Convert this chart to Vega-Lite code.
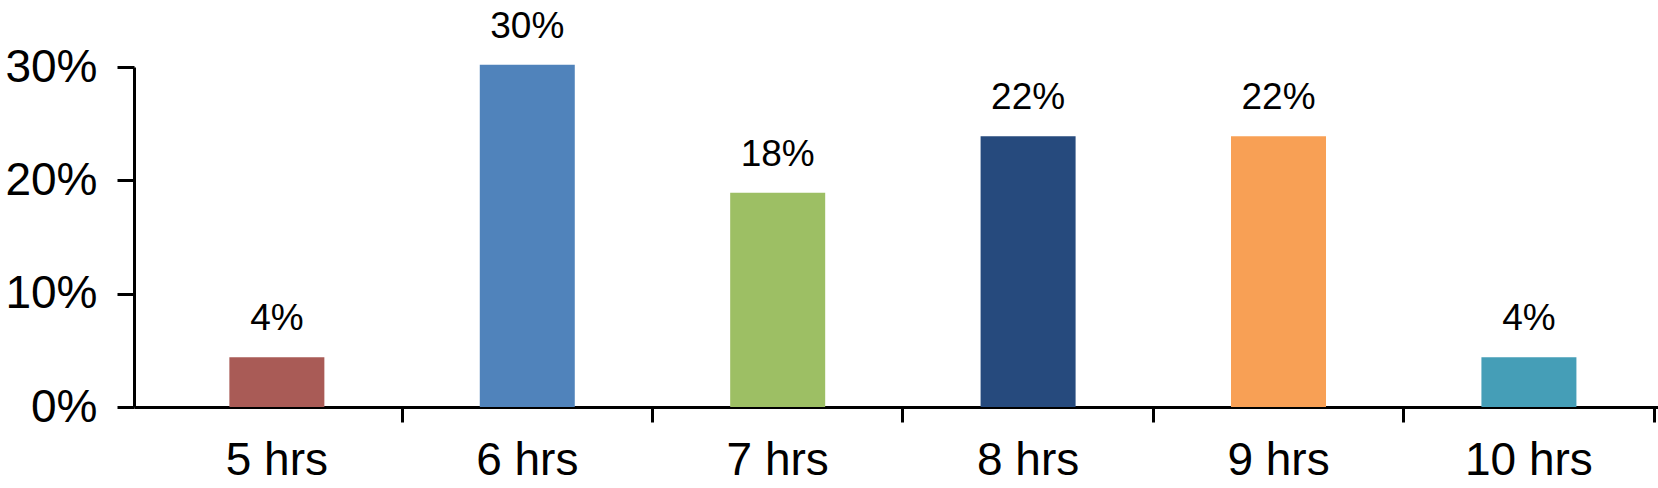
{
  "$schema": "https://vega.github.io/schema/vega-lite/v6.json",
  "autosize": "none",
  "width": 1524,
  "height": 340,
  "padding": {"left": 134, "top": 67, "right": 0, "bottom": 81},
  "background": "white",
  "config": {
    "view": {"stroke": null},
    "font": "Liberation Sans"
  },
  "data": {
    "values": [
      {"hours": "5 hrs", "value": 4.4, "label": "4%", "color": "#A95B56"},
      {"hours": "6 hrs", "value": 30.2, "label": "30%", "color": "#5083BB"},
      {"hours": "7 hrs", "value": 18.9, "label": "18%", "color": "#9DBF64"},
      {"hours": "8 hrs", "value": 23.9, "label": "22%", "color": "#264A7D"},
      {"hours": "9 hrs", "value": 23.9, "label": "22%", "color": "#F8A055"},
      {"hours": "10 hrs", "value": 4.4, "label": "4%", "color": "#459EB7"}
    ]
  },
  "encoding": {
    "x": {
      "field": "hours",
      "type": "nominal",
      "sort": null,
      "scale": {"paddingInner": 0, "paddingOuter": 0.043, "align": 0.82},
      "axis": {
        "title": null,
        "labelAngle": 0,
        "labelFontSize": 46,
        "labelColor": "black",
        "labelPadding": 16,
        "labelFont": "Liberation Sans",
        "domainColor": "black",
        "domainWidth": 3,
        "tickColor": "black",
        "tickWidth": 3,
        "tickSize": 15,
        "bandPosition": 1,
        "grid": false
      }
    },
    "y": {
      "field": "value",
      "type": "quantitative",
      "scale": {"domain": [0, 30], "nice": false, "zero": true},
      "axis": {
        "title": null,
        "values": [0, 10, 20, 30],
        "labelExpr": "datum.value + '%'",
        "labelFontSize": 46,
        "labelColor": "black",
        "labelPadding": 20,
        "labelFont": "Liberation Sans",
        "domainColor": "black",
        "domainWidth": 3,
        "tickColor": "black",
        "tickWidth": 3,
        "tickSize": 17,
        "grid": false
      }
    }
  },
  "layer": [
    {
      "mark": {"type": "bar", "size": 95, "clip": false},
      "encoding": {
        "color": {"field": "color", "type": "nominal", "scale": null, "legend": null}
      }
    },
    {
      "mark": {"type": "text", "baseline": "alphabetic", "dy": -27, "fontSize": 37, "color": "black", "clip": false},
      "encoding": {
        "text": {"field": "label"}
      }
    }
  ]
}
